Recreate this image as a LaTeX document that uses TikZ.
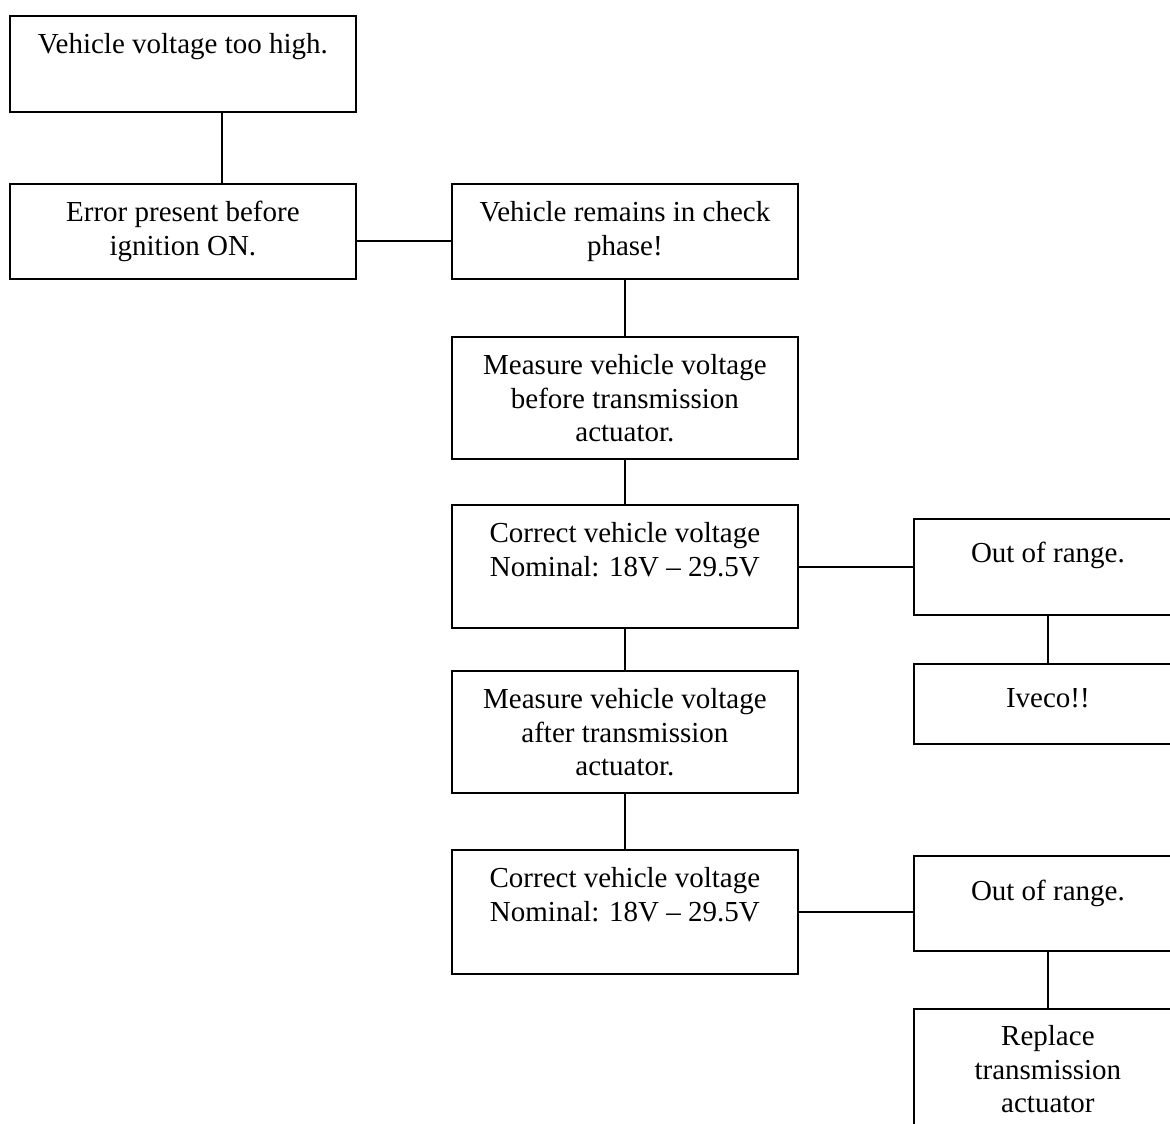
\documentclass[tikz,border=0pt]{standalone}
\usepackage{fontspec}
\setmainfont{Liberation Serif}
\usepackage{tikz}
\usetikzlibrary{positioning}
% text of a box: height, width, text (first baseline at the optional pad)
\newcommand{\boxbody}[4][38pt]{\parbox[t][#2][t]{#3}{\centering\rule{0pt}{#1}#4\par}}

\begin{document}
\begin{tikzpicture}[x=1pt,y=-1pt,
    stepbox/.style={draw,line width=1.8pt,inner sep=0pt,anchor=north west},
    link/.style={line width=1.8pt},
    font=\fontsize{29}{33.5}\selectfont]
  \useasboundingbox (0,0) rectangle (1170,1124);
  \clip (0,0) rectangle (1170,1124);
  % left column
  \node[stepbox] (high) at (9,15) {\boxbody{96pt}{346pt}{Vehicle voltage too high.}};
  \node[stepbox] (err) at (9,183) {\boxbody{95pt}{346pt}{Error present before\\ignition ON.}};
  % middle column
  \node[stepbox] (check) at (451,183) {\boxbody{95pt}{346pt}{Vehicle remains in check\\phase!}};
  \node[stepbox] (measbefore) at (451,336) {\boxbody{122pt}{346pt}{Measure vehicle voltage\\before transmission\\actuator.}};
  \node[stepbox] (corrbefore) at (451,504) {\boxbody{123pt}{346pt}{Correct vehicle voltage\\Nominal: 18V -- 29.5V}};
  \node[stepbox] (measafter) at (451,670) {\boxbody{122pt}{346pt}{Measure vehicle voltage\\after transmission\\actuator.}};
  \node[stepbox] (corrafter) at (451,849) {\boxbody{124pt}{346pt}{Correct vehicle voltage\\Nominal: 18V -- 29.5V}};
  % right column
  \node[stepbox] (rangebefore) at (913,518) {\boxbody[44pt]{96pt}{268pt}{Out of range.}};
  \node[stepbox] (iveco) at (913,663) {\boxbody[44pt]{80pt}{268pt}{Iveco!!}};
  \node[stepbox] (rangeafter) at (913,855) {\boxbody[45pt]{95pt}{268pt}{Out of range.}};
  \node[stepbox] (replace) at (913,1008) {\boxbody[37pt]{140pt}{268pt}{Replace\\transmission\\actuator}};

  \draw[link] ([xshift=39pt]high.south) -- ([xshift=39pt]err.north);
  \draw[link] ([yshift=-9.5pt]err.east) -- ([yshift=-9.5pt]check.west);
  \draw[link] (check) -- (measbefore);
  \draw[link] (measbefore) -- (corrbefore);
  \draw[link] (corrbefore) -- (measafter);
  \draw[link] (measafter) -- (corrafter);
  \draw[link] ([yshift=-0.5pt]corrbefore.east) -- ([yshift=-0.5pt]rangebefore.west |- corrbefore.east);
  \draw[link] (rangebefore) -- (iveco);
  \draw[link] (corrafter.east) -- (rangeafter.west |- corrafter.east);
  \draw[link] (rangeafter) -- (replace);
\end{tikzpicture}
\end{document}
